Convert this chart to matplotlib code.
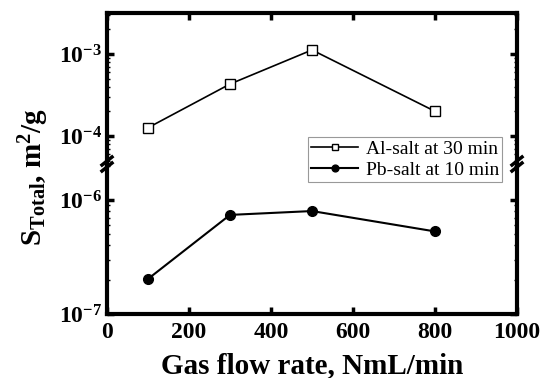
import numpy as np
import matplotlib.pyplot as plt
from matplotlib.ticker import LogLocator, NullFormatter

plt.rcParams['font.family'] = 'Liberation Serif'
plt.rcParams['mathtext.fontset'] = 'custom'
plt.rcParams['mathtext.rm'] = 'Liberation Serif:bold'
plt.rcParams['mathtext.it'] = 'Liberation Serif:bold'
plt.rcParams['mathtext.bf'] = 'Liberation Serif:bold'

# gas flow rate (NmL/min) and specific surface area (m2/g)
flow = [100, 300, 500, 800]
al_salt = [1.26e-4, 4.3e-4, 1.12e-3, 2.0e-4]
pb_salt = [2.03e-7, 7.4e-7, 8.0e-7, 5.3e-7]
x_ticks = [0, 200, 400, 600, 800, 1000]

fig = plt.figure(figsize=(5.42, 3.78), dpi=100)
W, H = 542.0, 378.0
left, right = 107 / W, 517 / W
y_top, y_brk, y_bot = 13, 165, 314
ax_up = fig.add_axes([left, 1 - y_brk / H, right - left, (y_brk - y_top) / H])
ax_lo = fig.add_axes([left, 1 - y_bot / H, right - left, (y_bot - y_brk) / H])

ax_up.plot(flow, al_salt, '-', color='black', lw=1.2, marker='s', ms=7,
           mfc='white', mec='black', mew=1.0, label='Al-salt at 30 min')
ax_lo.plot(flow, pb_salt, '-', color='black', lw=1.5, marker='o', ms=7,
           mfc='black', mec='black', label='Pb-salt at 10 min')

for ax in (ax_up, ax_lo):
    ax.set_yscale('log')
    ax.set_xlim(0, 1000)
    ax.set_xticks(x_ticks)
    ax.yaxis.set_major_locator(LogLocator(base=10))
    ax.yaxis.set_minor_locator(LogLocator(base=10, subs=np.arange(2, 10)))
    ax.yaxis.set_minor_formatter(NullFormatter())
    ax.tick_params(which='major', direction='in', length=5, width=2.5,
                   labelsize=17, left=True, right=True)
    ax.tick_params(which='minor', direction='in', length=2.5, width=1,
                   left=True, right=True)
    for s in ax.spines.values():
        s.set_linewidth(3)
    for lab in ax.get_xticklabels() + ax.get_yticklabels():
        lab.set_fontweight('bold')

ax_up.set_ylim(10 ** -4.354, 10 ** -2.5)
ax_lo.set_ylim(1e-7, 10 ** -5.693)

ax_up.spines['bottom'].set_visible(False)
ax_lo.spines['top'].set_visible(False)
ax_up.tick_params(axis='x', which='both', bottom=False, top=True, labelbottom=False)
ax_lo.tick_params(axis='x', which='both', bottom=True, top=False)
ax_lo.tick_params(axis='x', pad=6)

# break marks on both spines
kw = dict(transform=fig.transFigure, color='black', lw=2.5, clip_on=False)
for xs in (left, right):
    for dy in (-4, 2):
        yc = 1 - (y_brk + dy) / H
        fig.add_artist(plt.Line2D([xs - 5 / W, xs + 5 / W], [yc - 4 / H, yc + 4 / H], **kw))

fig.text(312 / W, 1 - 366 / H, 'Gas flow rate, NmL/min', fontsize=21,
         fontweight='bold', ha='center', va='center')
fig.text(34 / W, 1 - 177 / H, r'S$_{\mathrm{Total}}$, m$^2$/g', rotation=90,
         fontsize=21, fontweight='bold', ha='center', va='center')

h1, l1 = ax_up.get_legend_handles_labels()
h2, l2 = ax_lo.get_legend_handles_labels()
leg = fig.legend(h1 + h2, l1 + l2, loc='upper right',
                 bbox_to_anchor=(502 / W, 1 - 137 / H),
                 prop={'family': 'Liberation Serif', 'size': 14},
                 frameon=True, fancybox=False, edgecolor='gray',
                 handlelength=2.4, borderpad=0.15, labelspacing=0.2,
                 handletextpad=0.4, borderaxespad=0, markerscale=0.7)
leg.get_frame().set_linewidth(0.8)

fig.savefig('out.png', dpi=100)
